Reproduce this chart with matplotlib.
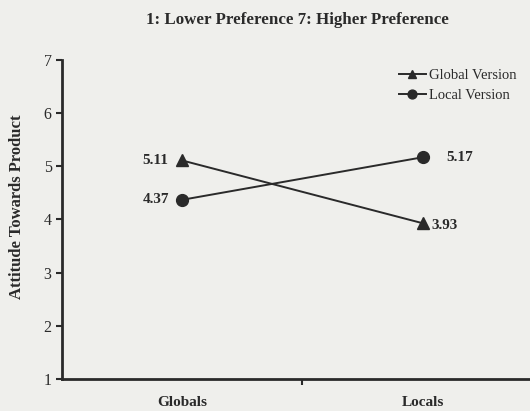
import matplotlib
matplotlib.use("Agg")
import matplotlib.pyplot as plt

categories = ["Globals", "Locals"]
global_version = [5.11, 3.93]
local_version = [4.37, 5.17]
yticks = [1, 2, 3, 4, 5, 6, 7]

bg = "#efefec"
ink = "#2a2a2a"
plt.rcParams["font.family"] = ["Liberation Serif", "DejaVu Serif"]

fig = plt.figure(figsize=(5.3, 4.11), dpi=100, facecolor=bg)
ax = fig.add_axes([0.117, 0.078, 0.907, 0.776])
ax.set_facecolor(bg)

x = list(range(len(categories)))
ax.plot(x, global_version, color=ink, lw=1.4, marker="^", ms=8.5, label="Global Version")
ax.plot(x, local_version, color=ink, lw=1.4, marker="o", ms=8.5, label="Local Version")

ax.set_xlim(-0.5, 1.5)
ax.set_ylim(1, 7)
ax.set_yticks(yticks)
ax.set_xticks([0.5])
ax.set_xticklabels([""])
for s in ["top", "right"]:
    ax.spines[s].set_visible(False)
for s in ["left", "bottom"]:
    ax.spines[s].set_linewidth(2)
    ax.spines[s].set_color(ink)
ax.tick_params(axis="both", direction="out", length=4, width=1.5, color=ink,
               labelsize=11.5, labelcolor=ink)

for i, c in enumerate(categories):
    ax.text(x[i], -0.052, c, transform=ax.get_xaxis_transform(), ha="center", va="top",
            fontsize=11, fontweight="bold", color=ink)

# value labels
ax.text(x[0] - 0.11, global_version[0], f"{global_version[0]:.2f}", ha="center", va="center",
        fontsize=11, fontweight="bold", color=ink)
ax.text(x[0] - 0.11, local_version[0], f"{local_version[0]:.2f}", ha="center", va="center",
        fontsize=11, fontweight="bold", color=ink)
ax.text(x[1] + 0.155, local_version[1], f"{local_version[1]:.2f}", ha="center", va="center",
        fontsize=11, fontweight="bold", color=ink)
ax.text(x[1] + 0.09, global_version[1] - 0.05, f"{global_version[1]:.2f}", ha="center", va="center",
        fontsize=11, fontweight="bold", color=ink)

ax.set_ylabel("Attitude Towards Product", fontsize=12, fontweight="bold", color=ink)
ax.yaxis.set_label_coords(-0.077, 0.54)

leg = ax.legend(loc="upper left", bbox_to_anchor=(0.70, 0.972), frameon=False, fontsize=10.5,
                handlelength=1.9, handletextpad=0.2, markerscale=0.75, labelspacing=0.45,
                borderpad=0, borderaxespad=0)
for t in leg.get_texts():
    t.set_color(ink)

fig.text(0.562, 0.952, "1: Lower Preference 7: Higher Preference", ha="center", va="center",
         fontsize=12.2, fontweight="bold", color=ink)

fig.savefig("out.png", dpi=100, facecolor=bg)
